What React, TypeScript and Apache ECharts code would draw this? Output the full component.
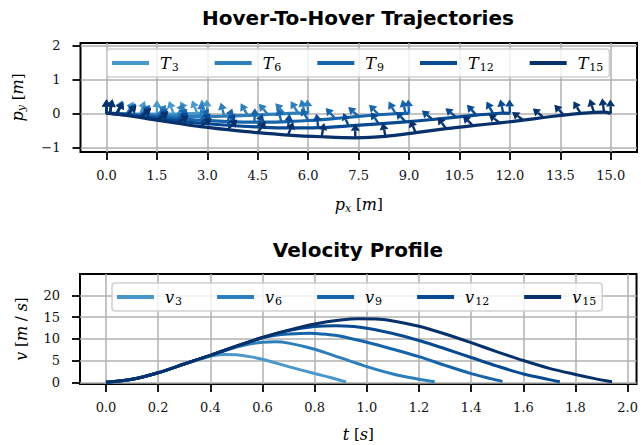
import React, { useEffect, useRef } from "react";
import * as echarts from "echarts";

// ---------- names, colours, ticks ----------
const trajNames = ["T3", "T6", "T9", "T12", "T15"];
const velNames = ["v3", "v6", "v9", "v12", "v15"];
const colors = ["#4a97c9", "#2e7ebc", "#1764ab", "#084a92", "#08306b"];

const pxTicks = [0, 1.5, 3, 4.5, 6, 7.5, 9, 10.5, 12, 13.5, 15];
const pyTicks = [-1, 0, 1, 2];
const tTicks = [0, 0.2, 0.4, 0.6, 0.8, 1.0, 1.2, 1.4, 1.6, 1.8, 2.0];
const vTicks = [0, 5, 10, 15, 20];

// ---------- trajectories [px, py] ----------
const traj3 = [
  [0, 0], [0.1, 0], [0.3, 0], [0.6, -0.01], [1.0, -0.02], [1.5, -0.02],
  [2.0, -0.02], [2.4, -0.01], [2.7, 0], [2.9, 0], [3, 0],
];
const traj6 = [
  [0, 0], [0.1, 0], [0.3, -0.01], [0.6, -0.02], [1.0, -0.04], [1.5, -0.06],
  [2.1, -0.08], [2.8, -0.09], [3.5, -0.08], [4.2, -0.06], [4.8, -0.03],
  [5.3, -0.01], [5.7, 0.01], [5.9, 0.01], [6, 0],
];
const traj9 = [
  [0, 0], [0.1, 0], [0.3, -0.01], [0.6, -0.03], [1.0, -0.06], [1.5, -0.1],
  [2.1, -0.15], [2.8, -0.2], [3.6, -0.24], [4.4, -0.26], [5.2, -0.25],
  [6.0, -0.21], [6.8, -0.15], [7.5, -0.09], [8.1, -0.04], [8.6, -0.01],
  [8.9, 0], [9, 0],
];
const traj12 = [
  [0, 0], [0.1, 0], [0.3, -0.02], [0.6, -0.05], [1.0, -0.09], [1.5, -0.15],
  [2.1, -0.22], [2.8, -0.29], [3.6, -0.35], [4.5, -0.4], [5.4, -0.43],
  [6.3, -0.42], [7.2, -0.37], [8.1, -0.31], [8.9, -0.25], [9.7, -0.18],
  [10.4, -0.11], [11.0, -0.05], [11.5, -0.01], [11.8, 0.01], [12, 0],
];
const traj15 = [
  [0, 0], [0.1, 0], [0.3, -0.02], [0.6, -0.06], [1.0, -0.12], [1.5, -0.2],
  [2.1, -0.29], [2.8, -0.39], [3.6, -0.48], [4.5, -0.57], [5.4, -0.64],
  [6.4, -0.69], [7.4, -0.72], [8.3, -0.68], [9.2, -0.57], [10.1, -0.45],
  [10.9, -0.36], [11.7, -0.28], [12.4, -0.2], [13.0, -0.12], [13.6, -0.05],
  [14.1, 0], [14.5, 0.03], [14.8, 0.04], [15, 0],
];

// thrust direction (degrees from +x) at each trajectory point
const angles3 = [90, 80, 66, 60, 70, 90, 110, 120, 112, 100, 92];
const angles6 = [90, 80, 64, 50, 44, 48, 62, 84, 104, 120, 130, 132, 122, 106, 94];
const angles9 = [90, 80, 62, 48, 40, 38, 42, 54, 70, 88, 104, 120, 132, 138, 134, 120, 104, 94];
const angles12 = [90, 80, 62, 46, 38, 34, 36, 44, 56, 70, 84, 98, 112, 124, 134, 140, 140, 132, 118, 102, 92];
const angles15 = [90, 80, 62, 46, 38, 34, 34, 38, 46, 56, 68, 80, 90, 102, 114, 126, 136, 142, 144, 140, 132, 120, 108, 98, 92];

// ---------- velocity profiles [t, v] ----------
const vel3 = [
  [0, 0], [0.1, 0.7], [0.2, 2.2], [0.3, 4.2], [0.4, 6.0], [0.45, 6.4], [0.5, 6.3],
  [0.55, 5.9], [0.6, 5.3], [0.7, 3.6], [0.8, 2.0], [0.86, 1.1], [0.92, 0.1],
];
const vel6 = [
  [0, 0], [0.1, 0.7], [0.2, 2.2], [0.3, 4.2], [0.4, 6.2], [0.5, 8.1], [0.55, 8.8],
  [0.6, 9.2], [0.65, 9.3], [0.7, 9.0], [0.8, 7.6], [0.9, 5.6], [1.0, 3.6],
  [1.1, 1.9], [1.2, 0.7], [1.26, 0.1],
];
const vel9 = [
  [0, 0], [0.1, 0.7], [0.2, 2.2], [0.3, 4.2], [0.4, 6.2], [0.5, 8.3], [0.6, 10.2],
  [0.65, 10.8], [0.7, 11.1], [0.78, 11.3], [0.85, 11.0], [0.9, 10.6], [1.0, 9.2],
  [1.1, 7.6], [1.2, 5.9], [1.3, 3.9], [1.4, 2.0], [1.47, 0.9], [1.52, 0.2],
];
const vel12 = [
  [0, 0], [0.1, 0.7], [0.2, 2.2], [0.3, 4.2], [0.4, 6.2], [0.5, 8.3], [0.6, 10.3],
  [0.7, 11.9], [0.8, 12.8], [0.88, 13.0], [0.95, 12.8], [1.0, 12.4], [1.1, 11.2],
  [1.2, 9.6], [1.3, 7.7], [1.4, 5.7], [1.5, 3.7], [1.6, 1.9], [1.7, 0.6], [1.74, 0.1],
];
const vel15 = [
  [0, 0], [0.1, 0.7], [0.2, 2.2], [0.3, 4.2], [0.4, 6.2], [0.5, 8.3], [0.6, 10.3],
  [0.7, 12.0], [0.8, 13.4], [0.9, 14.3], [0.97, 14.6], [1.05, 14.5], [1.1, 14.1],
  [1.2, 12.9], [1.3, 11.1], [1.4, 9.1], [1.5, 7.0], [1.6, 5.0], [1.7, 3.2],
  [1.8, 1.8], [1.87, 0.9], [1.94, 0.1],
];

const trajs = [traj3, traj6, traj9, traj12, traj15];
const angles = [angles3, angles6, angles9, angles12, angles15];
const vels = [vel3, vel6, vel9, vel12, vel15];

// ---------- styling ----------
const SERIF = "DejaVu Serif";
const SANS = "DejaVu Sans";

const mathRich = {
  i: { fontFamily: SERIF, fontStyle: "italic", fontSize: 16, color: "#000", lineHeight: 20 },
  s: { fontFamily: SERIF, fontStyle: "italic", fontSize: 11, color: "#000", lineHeight: 12, padding: [8, 0, 0, 0] },
  n: { fontFamily: SERIF, fontSize: 15, color: "#000", lineHeight: 20 },
};

const legendRich = {
  i: { fontFamily: SERIF, fontStyle: "italic", fontSize: 16, color: "#000", lineHeight: 20, padding: [0, 0, 0, 6] },
  s: { fontFamily: SERIF, fontSize: 11, color: "#000", lineHeight: 12, padding: [8, 0, 0, 1] },
};

const fmtMinus = (v: number) => (v < 0 ? "\u2212" + Math.abs(v) : String(v));

function axisCommon(ticks: number[], fmt: (v: number) => string, margin: number) {
  return {
    type: "value" as const,
    axisLine: { show: false, onZero: false },
    axisTick: {
      show: true,
      length: 8,
      customValues: ticks,
      lineStyle: { color: "#000", width: 1.8 },
    },
    axisLabel: {
      customValues: ticks,
      formatter: fmt,
      margin,
      fontFamily: SERIF,
      fontSize: 13,
      color: "#111",
    },
    splitLine: { show: true, lineStyle: { color: "#b0b0b0", width: 1.5 } },
  };
}

function arrowRenderer(color: string) {
  return (params: any, api: any) => {
    const x = api.value(0);
    const y = api.value(1);
    const ang = (api.value(2) * Math.PI) / 180;
    const p = api.coord([x, y]);
    const L = 14;
    const hl = 7;
    const hw = 4.5;
    const dx = Math.cos(ang);
    const dy = -Math.sin(ang);
    const tip = [p[0] + dx * L, p[1] + dy * L];
    const base = [tip[0] - dx * hl, tip[1] - dy * hl];
    const nx = -dy;
    const ny = dx;
    return {
      type: "group",
      children: [
        {
          type: "line",
          shape: { x1: p[0], y1: p[1], x2: base[0], y2: base[1] },
          style: { stroke: color, lineWidth: 2.4 },
        },
        {
          type: "polygon",
          shape: {
            points: [
              tip,
              [base[0] + nx * hw, base[1] + ny * hw],
              [base[0] - nx * hw, base[1] - ny * hw],
            ],
          },
          style: { fill: color },
        },
      ],
    };
  };
}

function buildOption() {
  const series: any[] = [];
  trajs.forEach((tr, k) => {
    series.push({
      name: trajNames[k],
      type: "line",
      xAxisIndex: 0,
      yAxisIndex: 0,
      data: tr,
      smooth: 0.3,
      showSymbol: false,
      symbol: "none",
      lineStyle: { color: colors[k], width: 3.2 },
      itemStyle: { color: colors[k] },
      z: 2 + k,
    });
    series.push({
      name: "arrows " + trajNames[k],
      type: "custom",
      xAxisIndex: 0,
      yAxisIndex: 0,
      data: tr.map((p, i) => [p[0], p[1], angles[k][i]]),
      encode: { x: 0, y: 1 },
      renderItem: arrowRenderer(colors[k]),
      clip: false,
      z: 2 + k,
    });
  });
  vels.forEach((vl, k) => {
    series.push({
      name: velNames[k],
      type: "line",
      xAxisIndex: 1,
      yAxisIndex: 1,
      data: vl,
      smooth: 0.3,
      showSymbol: false,
      symbol: "none",
      lineStyle: { color: colors[k], width: 3 },
      itemStyle: { color: colors[k] },
      z: 2 + k,
    });
  });

  const legendBase = {
    orient: "horizontal" as const,
    icon: "rect",
    itemWidth: 37,
    itemHeight: 4,
    itemGap: 36,
    backgroundColor: "rgba(255,255,255,0.8)",
    borderColor: "rgba(204,204,204,0.9)",
    borderWidth: 1.5,
    borderRadius: 3,
    padding: [4.5, 6, 4.5, 5],
    selectedMode: false,
    z: 20,
  };

  return {
    animation: false,
    backgroundColor: "#ffffff",
    graphic: [
      {
        type: "text",
        x: 358,
        y: 18,
        style: {
          text: "Hover-To-Hover Trajectories",
          font: `bold 20px "${SANS}"`,
          fill: "#000",
          textAlign: "center",
          textVerticalAlign: "middle",
        },
      },
      {
        type: "text",
        x: 358,
        y: 250,
        style: {
          text: "Velocity Profile",
          font: `bold 20px "${SANS}"`,
          fill: "#000",
          textAlign: "center",
          textVerticalAlign: "middle",
        },
      },
    ],
    grid: [
      { left: 80, top: 43, width: 557, height: 109, show: true, borderColor: "#000", borderWidth: 2, backgroundColor: "transparent" },
      { left: 80, top: 274, width: 557, height: 110, show: true, borderColor: "#000", borderWidth: 2, backgroundColor: "transparent" },
    ],
    legend: [
      {
        ...legendBase,
        left: 107,
        top: 49,
        data: trajNames,
        formatter: (name: string) => `{i|T}{s|${name.slice(1)}}`,
        textStyle: { rich: legendRich },
      },
      {
        ...legendBase,
        left: 112,
        top: 283,
        itemGap: 35,
        data: velNames,
        formatter: (name: string) => `{i|v}{s|${name.slice(1)}}`,
        textStyle: { rich: legendRich },
      },
    ],
    xAxis: [
      {
        ...axisCommon(pxTicks, (v: number) => v.toFixed(1), 17),
        gridIndex: 0,
        min: -0.773,
        max: 15.78,
        name: "{i|p}{s|x}{n| [}{i|m}{n|]}",
        nameLocation: "middle",
        nameGap: 42,
        nameTextStyle: { rich: mathRich },
      },
      {
        ...axisCommon(tTicks, (v: number) => v.toFixed(1), 17),
        gridIndex: 1,
        min: -0.0996,
        max: 2.034,
        name: "{i|t}{n| [}{i|s}{n|]}",
        nameLocation: "middle",
        nameGap: 40,
        nameTextStyle: { rich: mathRich },
      },
    ],
    yAxis: [
      {
        ...axisCommon(pyTicks, fmtMinus, 20),
        gridIndex: 0,
        min: -1.14,
        max: 2.08,
        name: "{i|p}{s|y}{n| [}{i|m}{n|]}",
        nameLocation: "middle",
        nameRotate: 90,
        nameGap: 53,
        nameTextStyle: { rich: mathRich },
      },
      {
        ...axisCommon(vTicks, fmtMinus, 20),
        gridIndex: 1,
        min: -0.4,
        max: 24.9,
        name: "{i|v}{n| [}{i|m}{n| / }{i|s}{n|]}",
        nameLocation: "middle",
        nameRotate: 90,
        nameGap: 49,
        nameTextStyle: { rich: mathRich },
      },
    ],
    series,
  };
}

export default function App() {
  const ref = useRef<HTMLDivElement>(null);
  useEffect(() => {
    if (!ref.current) return;
    const chart = echarts.init(ref.current, undefined, { renderer: "svg" });
    chart.setOption(buildOption() as any);
    return () => chart.dispose();
  }, []);
  return (
    <div
      ref={ref}
      style={{ position: "fixed", left: 0, top: 0, width: 641, height: 445, background: "#fff" }}
    />
  );
}
